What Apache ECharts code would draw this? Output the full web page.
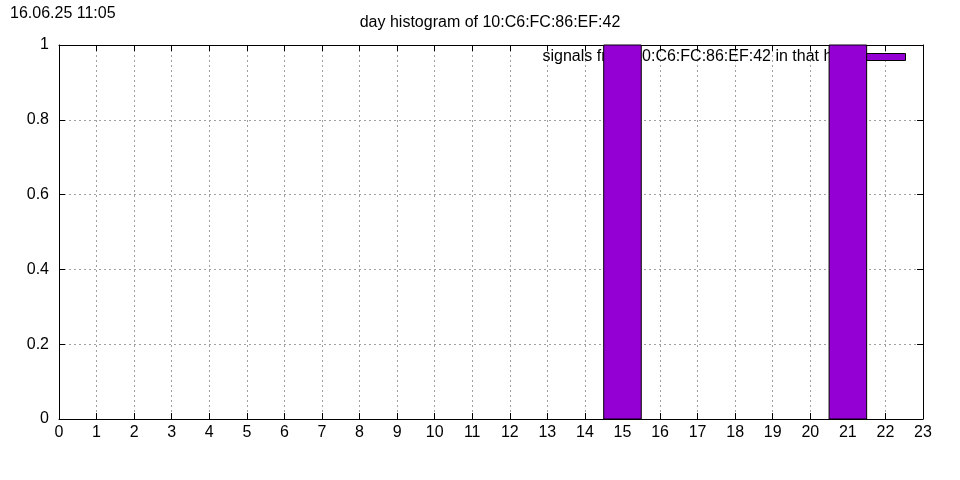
<!DOCTYPE html>
<html><head><meta charset="utf-8">
<script src="https://cdn.jsdelivr.net/npm/echarts@6/dist/echarts.min.js"></script>
<style>html,body{margin:0;padding:0;background:#fff}#c{width:960px;height:480px}</style>
</head><body><div id="c"></div>
<script>
const titleText = 'day histogram of 10:C6:FC:86:EF:42';
const stampText = '16.06.25 11:05';
const seriesName = 'signals from 10:C6:FC:86:EF:42 in that hour';
const hours = [0,1,2,3,4,5,6,7,8,9,10,11,12,13,14,15,16,17,18,19,20,21,22];
const counts = [0,0,0,0,0,0,0,0,0,0,0,0,0,0,0,1,0,0,0,0,0,1,0];
const yTicks = [0,0.2,0.4,0.6,0.8,1];

const chart = echarts.init(document.getElementById('c'), null, {renderer:'canvas'});
const data = hours.map((h,i)=>[h, counts[i]]);
const tickFont = {fontFamily:'Liberation Sans', fontSize:16, color:'#000'};
const grid = {left:59, right:37, top:45, bottom:61};
const splitLine = {show:true, lineStyle:{color:'#a0a0a0', type:[2,3], width:1}};
chart.setOption({
  animation:false,
  backgroundColor:'#fff',
  title:{text:titleText, left:485, textAlign:'center', top:10,
    textStyle:{fontFamily:'Liberation Sans', fontSize:16, fontWeight:'normal', color:'#000'}},
  graphic:[{type:'text', left:10, top:6, style:{text:stampText, fontFamily:'Liberation Sans', fontSize:16, fill:'#000'}}],
  legend:{right:54, top:49, z:1, padding:0, itemWidth:39, itemHeight:7, align:'right', itemGap:0,
    textStyle:{fontFamily:'Liberation Sans', fontSize:16, color:'#000', padding:[0,6,0,0]},
    data:[{name:seriesName, icon:'rect', itemStyle:{color:'#9400D3', borderColor:'#000', borderWidth:1}}]},
  grid:grid,
  xAxis:[{type:'value', min:0, max:23, interval:1, position:'bottom',
    axisLine:{show:true, onZero:false, lineStyle:{color:'#000', width:1}},
    axisTick:{show:true, inside:true, length:6, lineStyle:{color:'#000'}},
    axisLabel:Object.assign({margin:6}, tickFont),
    splitLine:splitLine},
   {type:'value', min:0, max:23, interval:1, position:'top',
    axisLine:{show:true, onZero:false, lineStyle:{color:'#000', width:1}},
    axisTick:{show:true, inside:true, length:6, lineStyle:{color:'#000'}},
    axisLabel:{show:false}, splitLine:{show:false}}],
  yAxis:[{type:'value', min:0, max:1, interval:0.2, position:'left',
    axisLine:{show:true, onZero:false, lineStyle:{color:'#000', width:1}},
    axisTick:{show:true, inside:true, length:6, lineStyle:{color:'#000'}},
    axisLabel:Object.assign({margin:10, formatter:v=>String(+v.toFixed(1))}, tickFont),
    splitLine:splitLine},
   {type:'value', min:0, max:1, interval:0.2, position:'right',
    axisLine:{show:true, onZero:false, lineStyle:{color:'#000', width:1}},
    axisTick:{show:true, inside:true, length:6, lineStyle:{color:'#000'}},
    axisLabel:{show:false}, splitLine:{show:false}}],
  series:[{
    name:seriesName, type:'custom', z:2, xAxisIndex:0, yAxisIndex:0,
    itemStyle:{color:'#9400D3', borderColor:'#000', borderWidth:1},
    data:data,
    renderItem:function(params, api){
      const x = api.value(0), y = api.value(1);
      if (!y) return null;
      const p1 = api.coord([x-0.5, y]);
      const p2 = api.coord([x+0.5, 0]);
      return {type:'rect', shape:{x:p1[0], y:p1[1], width:p2[0]-p1[0], height:p2[1]-p1[1]},
        style:{fill:'#9400D3', stroke:'#000', lineWidth:1}};
    }
  }]
});
</script></body></html>
